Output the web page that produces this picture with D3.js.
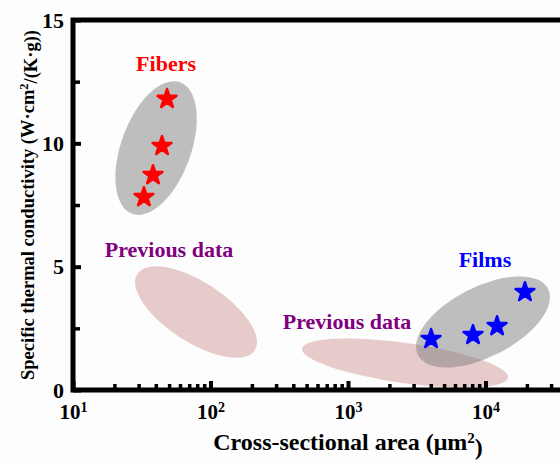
<!DOCTYPE html>
<html>
<head>
<meta charset="utf-8">
<script src="https://cdn.jsdelivr.net/npm/d3@7"></script>
<style>
  body { margin: 0; background: #fdfdfd; }
  svg { display: block; }
  svg text { font-family: "Liberation Serif", "Times New Roman", serif; font-weight: bold; }
</style>
</head>
<body>
<div id="chart"></div>
<script>
// Data (area in um^2, specific thermal conductivity in W.cm2/(K.g))
var fiberArea = [48.3, 44.4, 38.2, 32.8];
var fiberCond = [11.8, 9.89, 8.71, 7.82];
var filmArea = [4020, 8110, 12140, 19360];
var filmCond = [2.07, 2.23, 2.59, 3.97];

var xDecades = [10, 100, 1000, 10000];
var xMajorTicks = [10, 100, 1000, 10000];
var yMajorTicks = [0, 5, 10, 15];
var yMinorTicks = [2.5, 7.5, 12.5];

// Shaded regions: centre in data units
var regionNames = ["prev1", "prev2", "fibers", "films"];
var regionArea = [78.5, 2600, 40.2, 9590];
var regionCond = [3.16, 1.09, 9.81, 2.76];

// Annotation labels: anchor in data units
var labelText = ["Fibers", "Previous data", "Previous data", "Films"];
var labelArea = [47.5, 49.9, 984, 9910];
var labelCond = [12.93, 5.39, 2.47, 4.99];

var divWidth = 560,
    divHeight = 465,
    margin = {top: 20, left: 73, bottom: 75, right: -63};

var regionStyle = {
  prev1: {rx: 70, ry: 30, angle: 33, fill: "rgba(205,140,140,0.45)"},
  prev2: {rx: 104, ry: 20, angle: 8, fill: "rgba(205,140,140,0.45)"},
  fibers: {rx: 35, ry: 70, angle: 20, fill: "rgba(128,128,128,0.5)"},
  films: {rx: 73, ry: 35, angle: -27, fill: "rgba(128,128,128,0.5)"}
};
var labelColor = ["#ff0000", "#800080", "#800080", "#0000ff"];

var svg = d3.select("#chart")
  .append("svg")
  .attr("width", divWidth)
  .attr("height", divHeight);

var xScale = d3.scaleLog()
  .domain([10, 100000])
  .range([margin.left, divWidth - margin.right]);
var yScale = d3.scaleLinear()
  .domain([0, 15])
  .range([divHeight - margin.bottom, margin.top]);

// Minor log ticks 2..9 for each decade.
var xMinorTicks = [];
xDecades.forEach(function (d) {
  for (var k = 2; k <= 9; k++) xMinorTicks.push(d * k);
});

// Shaded regions first, so everything else sits on top.
svg.append("g")
  .selectAll("ellipse")
  .data(regionNames)
  .join("ellipse")
    .attr("cx", 0)
    .attr("cy", 0)
    .attr("rx", d => regionStyle[d].rx)
    .attr("ry", d => regionStyle[d].ry)
    .attr("transform", (d, i) => `translate(${xScale(regionArea[i])},${yScale(regionCond[i])}) rotate(${regionStyle[d].angle})`)
    .attr("fill", d => regionStyle[d].fill);

// Stars.
var star = d3.symbol().type(d3.symbolStar).size(110);
var points = fiberArea.map((a, i) => ({x: a, y: fiberCond[i], color: "#ff0000"}))
  .concat(filmArea.map((a, i) => ({x: a, y: filmCond[i], color: "#0000ff"})));

svg.append("g")
  .selectAll("path")
  .data(points)
  .join("path")
    .attr("d", star)
    .attr("transform", d => `translate(${xScale(d.x)},${yScale(d.y)})`)
    .attr("fill", d => d.color)
    .attr("stroke", d => d.color)
    .attr("stroke-width", 2.5)
    .attr("stroke-linejoin", "round");

// Annotation labels.
svg.append("g")
  .selectAll("text")
  .data(labelText)
  .join("text")
    .attr("x", (d, i) => xScale(labelArea[i]))
    .attr("y", (d, i) => yScale(labelCond[i]))
    .attr("text-anchor", "middle")
    .attr("font-size", 22)
    .attr("fill", (d, i) => labelColor[i])
    .text(d => d);

var y0 = yScale(0);

// Axes: ticks point inward.
function styleAxis(g, width) {
  g.select(".domain").remove();
  g.selectAll(".tick line").attr("stroke", "#000").attr("stroke-width", width);
}

svg.append("g")
  .attr("transform", `translate(0,${y0})`)
  .call(d3.axisBottom(xScale).tickValues(xMinorTicks).tickSize(-6).tickFormat(""))
  .call(g => styleAxis(g, 3.5));

svg.append("g")
  .attr("class", "x-axis")
  .attr("transform", `translate(0,${y0})`)
  .call(d3.axisBottom(xScale).tickValues(xMajorTicks).tickSize(-9).tickPadding(14).tickFormat(""))
  .call(g => styleAxis(g, 4));

svg.select(".x-axis").selectAll(".tick text")
  .attr("font-size", 21)
  .attr("fill", "#000")
  .each(function (d) {
    var t = d3.select(this);
    t.append("tspan").text("10");
    t.append("tspan").attr("dy", "-0.5em").attr("font-size", 14).text(Math.round(Math.log10(d)));
  });

svg.append("g")
  .attr("transform", `translate(${margin.left},0)`)
  .call(d3.axisLeft(yScale).tickValues(yMinorTicks).tickSize(-7).tickFormat(""))
  .call(g => styleAxis(g, 3.5));

svg.append("g")
  .attr("transform", `translate(${margin.left},0)`)
  .call(d3.axisLeft(yScale).tickValues(yMajorTicks).tickSize(-8).tickPadding(9))
  .call(g => styleAxis(g, 4))
  .call(g => g.selectAll(".tick text")
    .attr("font-size", 22)
    .attr("fill", "#000"));

// Frame lines (left, bottom, top).
svg.append("path")
  .attr("d", `M${divWidth},${margin.top}H${margin.left}V${y0}H${divWidth}`)
  .attr("fill", "none")
  .attr("stroke", "#000")
  .attr("stroke-width", 5);

// Axis titles.
var xTitle = svg.append("text")
  .attr("x", xScale(1000))
  .attr("y", 450)
  .attr("text-anchor", "middle")
  .attr("font-size", 24);
xTitle.append("tspan").text("Cross-sectional area (\u03bcm");
xTitle.append("tspan").attr("dy", "-0.5em").attr("font-size", 15).text("2");
xTitle.append("tspan").attr("dy", "0.5em").text(")");

var yTitle = svg.append("text")
  .attr("transform", `translate(34,${(margin.top + y0) / 2}) rotate(-90)`)
  .attr("text-anchor", "middle")
  .attr("font-size", 18.5);
yTitle.append("tspan").text("Specific thermal conductivity (W\u00b7cm");
yTitle.append("tspan").attr("dy", "-0.5em").attr("font-size", 12.5).text("2");
yTitle.append("tspan").attr("dy", "0.5em").text("/(K\u00b7g))");
</script>
</body>
</html>
